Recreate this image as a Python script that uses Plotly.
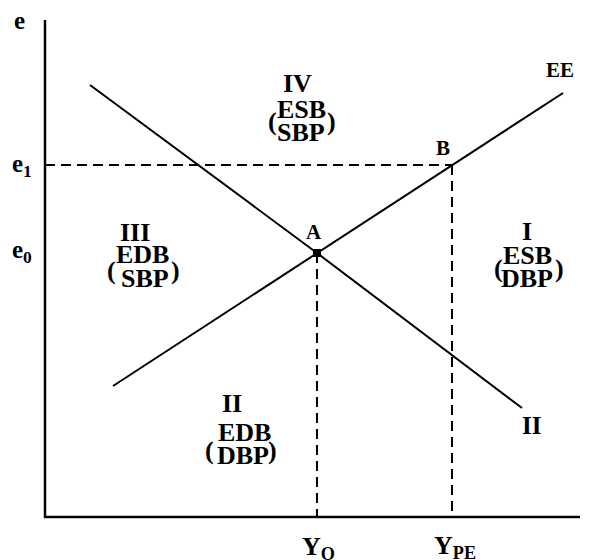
import plotly.graph_objects as go

# ---- data (abstract units; origin at axis corner) ----
Y0 = 272
YPE = 407
e0 = 264
e1 = 352
EE_x = [68, 272, 407, 518]
EE_y = [131, 264, 352, 424]
II_x = [45, 272, 477]
II_y = [432, 264, 109]
axis_x_end = 535
axis_y_end = 497

# quadrant label groups: (numeral, top, bottom, x_num, y_num, x_top, y_top, x_bot, y_bot, x_lp, x_rp, y_p)
quadrants = [
    ("IV", "ESB", "SBP", 252, 434, 256, 408, 256, 385, 227, 286, 396),
    ("III", "EDB", "SBP", 90, 285, 97, 263, 100, 239, 66, 130, 247),
    ("I", "ESB", "DBP", 482, 286, 482, 262, 482, 239, 453, 514, 249),
    ("II", "EDB", "DBP", 187, 114, 199, 85, 198, 62, 164, 227, 67),
]

FONT = "Liberation Serif"
BLACK = "black"

fig = go.Figure()

# axes
fig.add_trace(go.Scatter(x=[0, 0, axis_x_end], y=[axis_y_end, 0, 0], mode="lines",
                         line=dict(color=BLACK, width=2.5), hoverinfo="skip"))
# curves
fig.add_trace(go.Scatter(x=EE_x, y=EE_y, mode="lines", line=dict(color=BLACK, width=2), hoverinfo="skip"))
fig.add_trace(go.Scatter(x=II_x, y=II_y, mode="lines", line=dict(color=BLACK, width=2), hoverinfo="skip"))
# dashed guides
dash = "10px,6px"
fig.add_trace(go.Scatter(x=[0, YPE], y=[e1, e1], mode="lines", line=dict(color=BLACK, width=2, dash=dash), hoverinfo="skip"))
fig.add_trace(go.Scatter(x=[Y0, Y0], y=[e0, 0], mode="lines", line=dict(color=BLACK, width=2, dash=dash), hoverinfo="skip"))
fig.add_trace(go.Scatter(x=[YPE, YPE], y=[e1, 0], mode="lines", line=dict(color=BLACK, width=2, dash=dash), hoverinfo="skip"))
# point A
fig.add_trace(go.Scatter(x=[Y0], y=[e0], mode="markers", marker=dict(color=BLACK, size=8, symbol="square"), hoverinfo="skip"))


def label(x, y, text, size, xanchor="center"):
    fig.add_annotation(x=x, y=y, xref="x", yref="y", text=text, showarrow=False,
                       xanchor=xanchor, yanchor="middle",
                       font=dict(family=FONT, size=size, color=BLACK, weight="bold"))


label(-26, 497, "e", 25)
label(-23, 352, "e<sub>1</sub>", 25)
label(-23, 266, "e<sub>0</sub>", 25)
label(269, 285, "A", 21)
label(398, 369, "B", 21)
label(515, 447, "EE", 21)
label(486, 92, "II", 25)
label(273, -31, "Y<sub>O</sub>", 26)
label(410, -30, "Y<sub>PE</sub>", 26)
label(538, 5, "Y", 26, xanchor="left")

for num, top, bot, xn, yn, xt, yt, xb, yb, xl, xr, yp in quadrants:
    label(xn, yn, num, 26)
    label(xt, yt, top, 26)
    label(xb, yb, bot, 26)
    label(xl, yp, "(", 26)
    label(xr, yp, ")", 26)

# page has an 8px body margin: size and ranges compensate so the drawing lands as in the reference
fig.update_layout(
    width=585, height=552,
    margin=dict(l=0, r=0, t=0, b=0),
    paper_bgcolor="white", plot_bgcolor="white",
    showlegend=False,
    xaxis=dict(range=[-37, 548], visible=False, fixedrange=True),
    yaxis=dict(range=[-43, 509], visible=False, fixedrange=True),
)

fig.write_html("out.html")
